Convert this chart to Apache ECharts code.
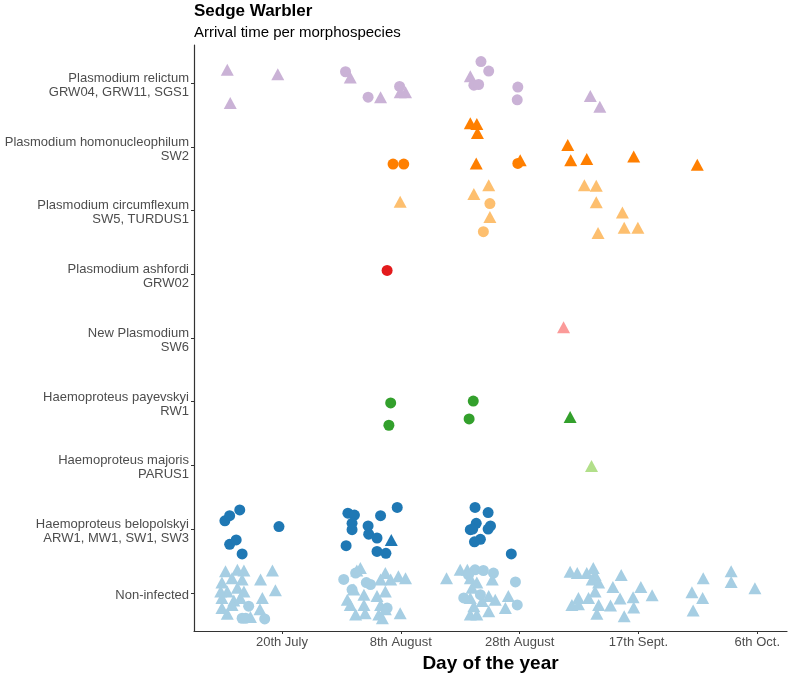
<!DOCTYPE html>
<html>
<head>
<meta charset="utf-8">
<script src="https://cdn.jsdelivr.net/npm/echarts@6/dist/echarts.min.js"></script>
<style>
  html, body { margin: 0; padding: 0; background: #fff; }
  #chart { width: 790px; height: 674px; }
</style>
</head>
<body>
<div id="chart"></div>
<script>
// y categories, bottom (1) to top (9)
const categories = [
  'Non-infected',
  'Haemoproteus belopolskyi\nARW1, MW1, SW1, SW3',
  'Haemoproteus majoris\nPARUS1',
  'Haemoproteus payevskyi\nRW1',
  'New Plasmodium\nSW6',
  'Plasmodium ashfordi\nGRW02',
  'Plasmodium circumflexum\nSW5, TURDUS1',
  'Plasmodium homonucleophilum\nSW2',
  'Plasmodium relictum\nGRW04, GRW11, SGS1'
];
const colors = ['#a6cee3', '#1f78b4', '#b2df8a', '#33a02c', '#fb9a99', '#e31a1c', '#fdbf6f', '#ff7f00', '#cab2d6'];
const rowTicks = [1, 2, 3, 4, 5, 6, 7, 8, 9];

// x ticks: day of year
const xTicks = [200, 220, 240, 260, 280];
const xTickLabels = ['20th July', '8th August', '28th August', '17th Sept.', '6th Oct.'];

// points: [day of year, jittered row position, shape c=circle t=triangle]
const relictum = [
  [190.8, 9.21, 't'], [199.3, 9.14, 't'], [210.7, 9.18, 'c'], [211.5, 9.09, 't'],
  [191.3, 8.69, 't'], [214.5, 8.78, 'c'], [216.6, 8.78, 't'], [219.8, 8.95, 'c'],
  [219.9, 8.86, 't'], [220.8, 8.86, 't'], [231.7, 9.11, 't'], [233.5, 9.34, 'c'],
  [234.8, 9.19, 'c'], [232.3, 8.97, 'c'], [233.1, 8.98, 'c'], [239.7, 8.94, 'c'],
  [239.6, 8.74, 'c'], [251.9, 8.80, 't'], [253.5, 8.63, 't']
];
const homonucleophilum = [
  [218.7, 7.73, 'c'], [220.5, 7.73, 'c'], [231.7, 8.37, 't'], [232.8, 8.36, 't'],
  [232.9, 8.22, 't'], [232.7, 7.74, 't'], [239.7, 7.74, 'c'], [240.1, 7.79, 't'],
  [248.1, 8.03, 't'], [248.6, 7.79, 't'], [251.3, 7.81, 't'], [259.2, 7.85, 't'],
  [269.9, 7.72, 't']
];
const circumflexum = [
  [219.9, 7.14, 't'], [232.3, 7.26, 't'], [234.8, 7.40, 't'], [235.0, 7.11, 'c'],
  [235.0, 6.90, 't'], [233.9, 6.67, 'c'], [250.9, 7.40, 't'], [252.9, 7.39, 't'],
  [252.9, 7.13, 't'], [257.3, 6.97, 't'], [257.6, 6.73, 't'], [259.9, 6.73, 't'],
  [253.2, 6.65, 't']
];
const ashfordi = [[217.7, 6.06, 'c']];
const newPlasmodium = [[247.4, 5.17, 't']];
const payevskyi = [
  [218.3, 3.98, 'c'], [218.0, 3.63, 'c'], [232.2, 4.01, 'c'], [231.5, 3.73, 'c'],
  [248.5, 3.76, 't']
];
const majoris = [[252.1, 2.99, 't']];
const belopolskyi = [
  [190.4, 2.13, 'c'], [191.2, 2.21, 'c'], [192.9, 2.30, 'c'], [199.5, 2.04, 'c'],
  [191.2, 1.76, 'c'], [192.3, 1.83, 'c'], [193.3, 1.61, 'c'], [211.1, 2.25, 'c'],
  [212.2, 2.22, 'c'], [211.8, 2.09, 'c'], [211.8, 1.99, 'c'], [216.6, 2.21, 'c'],
  [219.4, 2.34, 'c'], [214.5, 2.05, 'c'], [214.6, 1.92, 'c'], [216.0, 1.86, 'c'],
  [218.4, 1.83, 't'], [210.8, 1.74, 'c'], [216.0, 1.65, 'c'], [217.5, 1.62, 'c'],
  [232.5, 2.34, 'c'], [234.7, 2.26, 'c'], [232.7, 2.09, 'c'], [231.7, 1.99, 'c'],
  [232.1, 2.00, 'c'], [235.1, 2.05, 'c'], [234.7, 2.00, 'c'], [233.4, 1.84, 'c'],
  [232.4, 1.80, 'c'], [238.6, 1.61, 'c']
];
const nonInfected = [
  // July cluster
  [190.5, 1.34, 't'], [192.5, 1.36, 't'], [193.6, 1.35, 't'], [198.4, 1.35, 't'],
  [196.4, 1.21, 't'], [189.9, 1.16, 't'], [191.6, 1.23, 't'], [193.3, 1.21, 't'],
  [198.9, 1.04, 't'], [190.8, 1.02, 't'], [192.5, 1.08, 't'], [189.9, 0.92, 't'],
  [191.9, 0.88, 't'], [193.0, 0.92, 't'], [196.7, 0.92, 't'], [191.6, 0.81, 't'],
  [189.9, 0.76, 't'], [190.8, 0.67, 't'], [196.3, 0.74, 't'], [194.7, 0.62, 't'],
  [189.7, 1.02, 't'], [193.6, 1.02, 't'],
  [194.4, 0.79, 'c'], [193.3, 0.60, 'c'], [197.1, 0.59, 'c'], [193.9, 0.60, 'c'],
  // early August cluster
  [210.4, 1.21, 'c'], [212.4, 1.31, 'c'], [214.2, 1.16, 'c'], [211.8, 1.05, 'c'],
  [217.7, 0.76, 'c'], [214.9, 1.13, 'c'],
  [213.2, 1.39, 't'], [212.6, 1.35, 't'], [217.4, 1.31, 't'], [216.6, 1.21, 't'],
  [218.3, 1.21, 't'], [219.6, 1.26, 't'], [220.8, 1.23, 't'], [227.7, 1.23, 't'],
  [212.1, 1.05, 't'], [217.4, 1.02, 't'], [213.8, 0.97, 't'], [211.0, 0.89, 't'],
  [216.0, 0.95, 't'], [211.5, 0.81, 't'], [213.8, 0.81, 't'], [216.6, 0.81, 't'],
  [212.4, 0.66, 't'], [214.0, 0.68, 't'], [216.3, 0.66, 't'], [217.4, 0.74, 't'],
  [219.9, 0.68, 't'], [216.9, 0.60, 't'],
  // late August cluster
  [230.0, 1.36, 't'], [231.2, 1.36, 't'], [231.7, 1.23, 't'], [232.0, 1.08, 't'],
  [232.8, 1.16, 't'], [235.4, 1.21, 't'], [231.7, 0.92, 't'], [234.8, 0.95, 't'],
  [235.9, 0.89, 't'], [238.1, 0.95, 't'], [237.6, 0.76, 't'], [232.3, 0.79, 't'],
  [231.7, 0.66, 't'], [232.8, 0.66, 't'], [234.8, 0.71, 't'], [233.7, 0.87, 't'],
  [232.5, 1.36, 'c'], [233.9, 1.35, 'c'], [235.6, 1.31, 'c'], [239.3, 1.17, 'c'],
  [230.6, 0.92, 'c'], [239.6, 0.81, 'c'], [233.4, 0.97, 'c'], [231.4, 1.28, 'c'],
  // September cluster
  [248.5, 1.33, 't'], [249.7, 1.31, 't'], [251.3, 1.31, 't'], [252.4, 1.39, 't'],
  [252.7, 1.28, 't'], [252.2, 1.21, 't'], [253.3, 1.16, 't'], [257.1, 1.28, 't'],
  [255.7, 1.09, 't'], [260.4, 1.09, 't'], [252.7, 1.02, 't'], [262.3, 0.96, 't'],
  [249.9, 0.92, 't'], [251.6, 0.92, 't'], [256.9, 0.91, 't'], [259.1, 0.93, 't'],
  [248.8, 0.81, 't'], [249.9, 0.82, 't'], [253.3, 0.81, 't'], [255.3, 0.80, 't'],
  [259.2, 0.77, 't'], [253.0, 0.67, 't'], [257.6, 0.63, 't'],
  // October
  [270.9, 1.23, 't'], [275.6, 1.34, 't'], [275.6, 1.17, 't'], [279.6, 1.07, 't'],
  [269.0, 1.01, 't'], [270.8, 0.92, 't'], [269.2, 0.72, 't']
];

const groups = [nonInfected, belopolskyi, majoris, payevskyi, newPlasmodium,
  ashfordi, circumflexum, homonucleophilum, relictum];

function toItems(points) {
  return points.map(p => ({
    value: [p[0], p[1]],
    symbol: p[2] === 't' ? 'triangle' : 'circle',
    symbolSize: p[2] === 't' ? [13, 12] : 11
  }));
}

const chart = echarts.init(document.getElementById('chart'));

const option = {
  backgroundColor: '#fff',
  animation: false,
  title: [
    {
      text: 'Sedge Warbler',
      left: 194, top: 3, padding: 0,
      textStyle: { fontFamily: 'Liberation Sans', fontSize: 17, fontWeight: 'bold', color: '#000' }
    },
    {
      text: 'Arrival time per morphospecies',
      left: 194, top: 25, padding: 0,
      textStyle: { fontFamily: 'Liberation Sans', fontSize: 15, fontWeight: 'normal', color: '#000' }
    }
  ],
  grid: { left: 194, right: 3, top: 45, bottom: 43, outerBoundsMode: 'none', containLabel: false },
  xAxis: {
    type: 'value',
    min: 185.2,
    max: 285,
    name: 'Day of the year',
    nameLocation: 'middle',
    nameGap: 22,
    nameTextStyle: { fontFamily: 'Liberation Sans', fontSize: 19, fontWeight: 'bold', color: '#000' },
    splitLine: { show: false },
    axisLine: { show: true, lineStyle: { color: '#333', width: 1.2 } },
    axisTick: { show: true, length: 3, customValues: xTicks, lineStyle: { color: '#333' } },
    axisLabel: {
      customValues: xTicks,
      margin: 5,
      color: '#4d4d4d',
      fontFamily: 'Liberation Sans',
      fontSize: 13,
      formatter: v => xTickLabels[xTicks.indexOf(Math.round(v))] || ''
    }
  },
  yAxis: {
    type: 'value',
    min: 0.4,
    max: 9.6,
    splitLine: { show: false },
    axisLine: { show: true, lineStyle: { color: '#333', width: 1.2 } },
    axisTick: { show: true, length: 3, customValues: rowTicks, lineStyle: { color: '#333' } },
    axisLabel: {
      // labels sit a touch below their tick, as in the original
      customValues: rowTicks.map(v => v - 0.035),
      margin: 5,
      color: '#4d4d4d',
      fontFamily: 'Liberation Sans',
      fontSize: 13,
      lineHeight: 14,
      align: 'right',
      formatter: v => categories[Math.round(v) - 1] || ''
    }
  },
  series: groups.map((g, i) => ({
    type: 'scatter',
    name: categories[i],
    data: toItems(g),
    itemStyle: { color: colors[i], opacity: 1 }
  }))
};

chart.setOption(option);
</script>
</body>
</html>
